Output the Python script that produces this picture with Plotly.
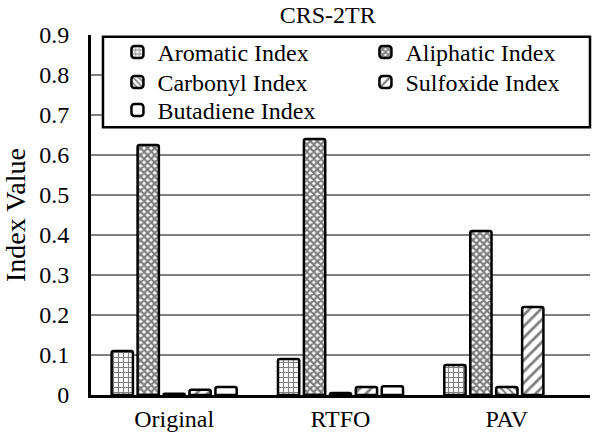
import plotly.graph_objs as go

categories = ['Original', 'RTFO', 'PAV']
series_names = ['Aromatic Index', 'Aliphatic Index', 'Carbonyl Index',
                'Sulfoxide Index', 'Butadiene Index']
aromatic = [0.110, 0.090, 0.075]
aliphatic = [0.625, 0.640, 0.410]
carbonyl = [0.003, 0.005, 0.020]
sulfoxide = [0.013, 0.020, 0.220]
butadiene = [0.020, 0.022, None]
y_ticks = [0, 0.1, 0.2, 0.3, 0.4, 0.5, 0.6, 0.7, 0.8, 0.9]

FONT = 'Times New Roman, Liberation Serif, serif'
FS = 24

patterns = [
    dict(shape='+', fgcolor='black', bgcolor='white', size=5, solidity=0.4),
    dict(shape='x', fgcolor='black', bgcolor='white', size=5, solidity=0.7),
    dict(shape='\\', fgcolor='black', bgcolor='white', size=5, solidity=0.4),
    dict(shape='/', fgcolor='black', bgcolor='white', size=8, solidity=0.35),
    dict(shape='', fgcolor='black', bgcolor='white'),
]
# one single-entry legend per series so the 2-column grid can be placed freely
legend_ids = ['legend', 'legend2', 'legend3', 'legend4', 'legend5']
legend_pos = [(0.053, 1.014), (0.550, 1.014),
              (0.053, 0.931), (0.550, 0.931),
              (0.053, 0.853)]

fig = go.Figure()
for name, vals, pat, lg in zip(series_names,
                               [aromatic, aliphatic, carbonyl, sulfoxide, butadiene],
                               patterns, legend_ids):
    fig.add_trace(go.Bar(
        name=name, x=categories, y=vals, legend=lg,
        marker=dict(color='white', pattern=pat,
                    line=dict(color='black', width=2.5), cornerradius=2),
    ))

# legend frame
fig.add_shape(type='rect', xref='paper', yref='paper',
              x0=0.024, x1=1.0, y0=0.744, y1=0.995,
              line=dict(color='black', width=2.5), fillcolor='white',
              layer='above')

legends = {}
for lg, (lx, ly) in zip(legend_ids, legend_pos):
    legends[lg] = dict(x=lx, y=ly, orientation='v', yanchor='top', xanchor='left',
                       bgcolor='rgba(0,0,0,0)', borderwidth=0,
                       font=dict(family='Liberation Serif', size=FS, color='black'))

fig.update_layout(
    width=598, height=443,
    margin=dict(l=91, r=8, t=35, b=48),
    title=dict(text='CRS-2TR', x=0.548, xanchor='center', y=0.985, yanchor='top',
               font=dict(family=FONT, size=FS, color='black')),
    font=dict(family=FONT, size=FS, color='black'),
    plot_bgcolor='white', paper_bgcolor='white',
    barmode='group', bargap=0.22, bargroupgap=0.18,
    showlegend=True,
    xaxis=dict(showline=True, linecolor='black', linewidth=3, automargin=False,
               ticks='', tickfont=dict(size=FS)),
    yaxis=dict(range=[0, 0.9], tickvals=y_ticks, automargin=False,
               ticktext=['0' if v == 0 else f'{v:.1f}' for v in y_ticks],
               showline=True, linecolor='black', linewidth=3,
               showgrid=True, gridcolor='#808080', gridwidth=1.5,
               zeroline=False, ticks='', tickfont=dict(size=FS),
               ticklabelstandoff=14,
               title=dict(text='Index Value', font=dict(size=28), standoff=8)),
    **legends,
)

# drop the default page margin so the figure sits at the window origin
fig.write_html('out.html', config={'displayModeBar': False},
               post_script="document.body.style.margin='0';")
